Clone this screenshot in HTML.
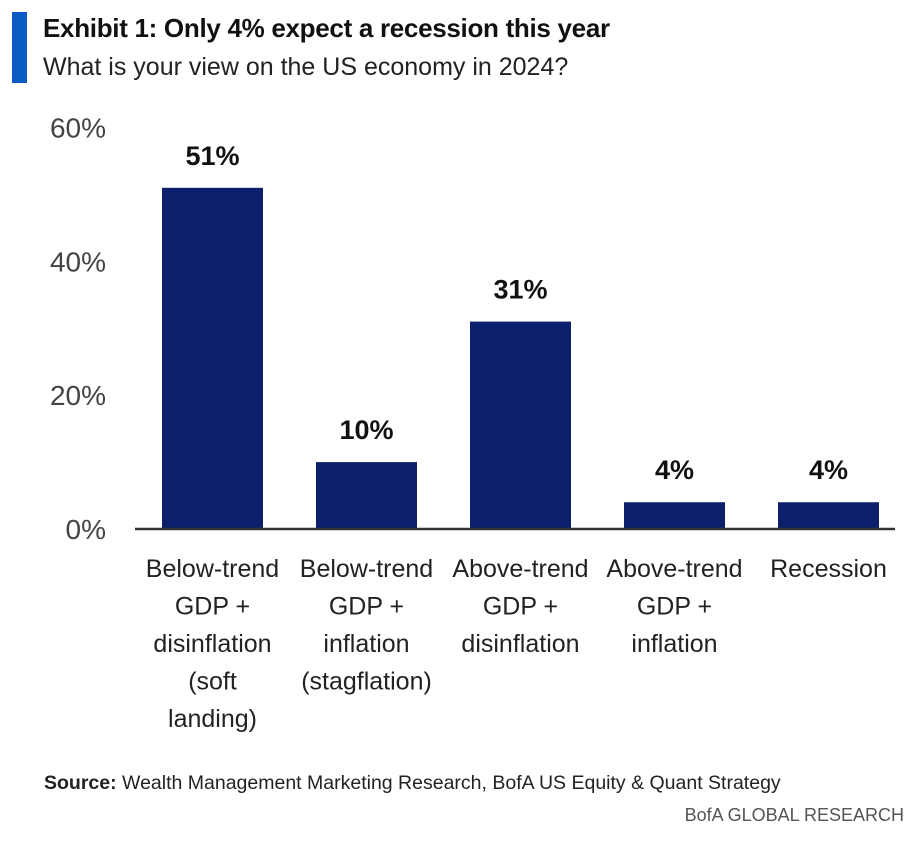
<!DOCTYPE html>
<html><head><meta charset="utf-8"><style>
body{margin:0;background:#fff;font-family:"Liberation Sans",sans-serif;}
#wrap{position:relative;width:924px;height:842px;overflow:hidden;}
</style></head><body>
<div id="wrap">
<div style="position:absolute;left:12px;top:12px;width:15px;height:71px;background:#0a5bc4"></div>
<div style="position:absolute;left:43px;top:13px;font-size:26px;font-weight:bold;color:#111;letter-spacing:-0.3px">Exhibit 1: Only 4% expect a recession this year</div>
<div style="position:absolute;left:43px;top:53px;font-size:25px;color:#222">What is your view on the US economy in 2024?</div>
<svg id="chart" width="924" height="842" style="position:absolute;left:0;top:0"></svg>
<div style="position:absolute;left:44px;top:772px;font-size:19.5px;color:#222"><b>Source:</b> Wealth Management Marketing Research, BofA US Equity &amp; Quant Strategy</div>
<div style="position:absolute;right:20px;top:805px;font-size:18px;color:#555">BofA GLOBAL RESEARCH</div>
</div>
<script>
const categories=[["Below-trend","GDP +","disinflation","(soft","landing)"],["Below-trend","GDP +","inflation","(stagflation)"],["Above-trend","GDP +","disinflation"],["Above-trend","GDP +","inflation"],["Recession"]];
const values=[51,10,31,4,4];
const valueLabels=["51%","10%","31%","4%","4%"];
const yTicks=[0,20,40,60];
const yTickLabels=["0%","20%","40%","60%"];
const svg=document.getElementById('chart');
const NS='http://www.w3.org/2000/svg';
const y0=529,pxPer=6.69;
const y=v=>y0-v*pxPer;
const x=i=>162+i*154;
const bw=101;
function mk(t,a){const e=document.createElementNS(NS,t);for(const k in a)e.setAttribute(k,a[k]);svg.appendChild(e);return e;}
yTicks.forEach((t,i)=>{const e=mk('text',{x:106,y:y(t)+10,'text-anchor':'end','font-size':28,fill:'#444','font-family':'Liberation Sans'});e.textContent=yTickLabels[i];

});
values.forEach((v,i)=>{
const r=mk('rect',{x:x(i),y:y(v),width:bw,height:y0-y(v),fill:'#0c1f6b'});


const t=mk('text',{x:x(i)+bw/2,y:y(v)-23,'text-anchor':'middle','font-size':27,'font-weight':'bold',fill:'#111','font-family':'Liberation Sans'});t.textContent=valueLabels[i];


categories[i].forEach((ln,j)=>{const c=mk('text',{x:x(i)+bw/2,y:577+j*37.5,'text-anchor':'middle','font-size':25,fill:'#222','font-family':'Liberation Sans'});c.textContent=ln;

});
});
const ax=mk('line',{x1:135,x2:895,y1:y0,y2:y0,stroke:'#333','stroke-width':2.5});


</script>
</body></html>
